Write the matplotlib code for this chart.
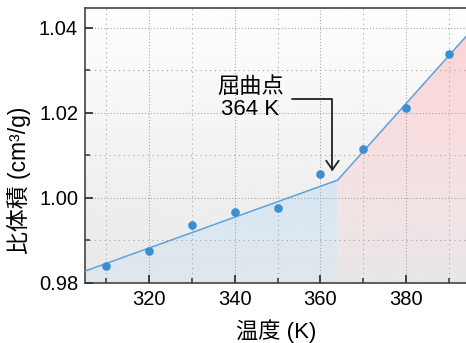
import numpy as np
import matplotlib
matplotlib.use("Agg")
import matplotlib.pyplot as plt
from matplotlib.ticker import MultipleLocator, FixedLocator

plt.rcParams["font.family"] = ["Liberation Sans", "Noto Sans CJK JP"]

# Measured specific volume vs temperature
temperature = [310, 320, 330, 340, 350, 360, 370, 380, 390]
specific_volume = [0.9840, 0.9875, 0.9937, 0.9968, 0.9976, 1.0056, 1.0115, 1.0211, 1.0339]

# Two-segment fit with the knee at 364 K
knee_temperature = 364
fit_temperature = [305, knee_temperature, 394]
fit_volume = [0.9828, 1.0042, 1.0380]

knee_label = "屈曲点\n364 K"
x_ticks = [320, 340, 360, 380]
y_ticks = [0.98, 1.00, 1.02, 1.04]
x_label = "温度 (K)"
y_label = "比体積 (cm³/g)"

xlim = (305, 394)
ylim = (0.98, 1.0447)

fig = plt.figure(figsize=(4.66, 3.43), dpi=100)
ax = fig.add_axes([85 / 466, 60 / 343, 381 / 466, 275 / 343])

# soft vertical background gradient
bg = np.linspace(0.91, 0.995, 256).reshape(-1, 1)
ax.imshow(bg, extent=[xlim[0], xlim[1], ylim[0], ylim[1]], origin="lower",
          aspect="auto", cmap="gray", vmin=0, vmax=1, zorder=0, interpolation="bicubic")


def gradient_fill(x, y, rgb, a_bottom, a_top):
    poly = ax.fill_between(x, y, ylim[0], color="none", lw=0, zorder=1)
    top = max(y)
    rgba = np.zeros((256, 1, 4))
    rgba[:, :, :3] = rgb
    rgba[:, 0, 3] = np.linspace(a_bottom, a_top, 256)
    im = ax.imshow(rgba, extent=[min(x), max(x), ylim[0], top], origin="lower",
                   aspect="auto", zorder=1, interpolation="bicubic")
    im.set_clip_path(poly.get_paths()[0], transform=ax.transData)


gradient_fill(fit_temperature[:2], fit_volume[:2], (0.80, 0.89, 0.96), 0.30, 0.70)
gradient_fill(fit_temperature[1:], fit_volume[1:], (0.99, 0.78, 0.79), 0.05, 0.75)

ax.plot(fit_temperature, fit_volume, color="#5ba4da", lw=1.1, zorder=3)
ax.plot(temperature, specific_volume, "o", color="#3a8fd2", ms=6.2, mec="none", zorder=4)

ax.set_xlim(*xlim)
ax.set_ylim(*ylim)

ax.xaxis.set_major_locator(FixedLocator(x_ticks))
ax.yaxis.set_major_locator(FixedLocator(y_ticks))
ax.xaxis.set_minor_locator(MultipleLocator(10))
ax.yaxis.set_minor_locator(MultipleLocator(0.01))
ax.set_yticklabels([f"{v:.2f}" for v in y_ticks])
ax.set_xticklabels([str(v) for v in x_ticks])

ax.grid(which="major", color="#a0a0a0", lw=0.75, linestyle=(0, (1, 2.0)), zorder=2)
ax.grid(which="minor", color="#a0a0a0", lw=0.75, linestyle=(0, (1, 3.6)), zorder=2)
ax.set_axisbelow(False)
for gl in ax.get_xgridlines() + ax.get_ygridlines():
    gl.set_zorder(2)

ax.tick_params(which="both", direction="in", top=False, right=False,
               color="#333333", labelsize=14.5, pad=5)
ax.tick_params(which="major", length=6, width=1.3)
ax.tick_params(which="minor", length=3.5, width=1.1)

for side in ("left", "bottom", "top"):
    ax.spines[side].set_color("#444444")
    ax.spines[side].set_linewidth(1.2)
ax.spines["right"].set_visible(False)

ax.set_xlabel(x_label, fontsize=16)
ax.set_ylabel(y_label, fontsize=16.5)
ax.xaxis.label.set(va="center", ha="center")
ax.yaxis.label.set(va="center", ha="center")
ax.xaxis.set_label_coords(0.501, -0.1745)
ax.yaxis.set_label_coords(-0.173, 0.375)

ax.annotate(knee_label, xy=(knee_temperature - 1.2, 1.0063), xytext=(343.6, 1.0234),
            ha="center", va="center", fontsize=16, linespacing=1.05, zorder=5,
            arrowprops=dict(arrowstyle="->,head_length=0.4,head_width=0.28",
                            connectionstyle="angle,angleA=0,angleB=90,rad=0",
                            color="#222222", lw=1.3, shrinkA=4, shrinkB=0))

fig.savefig("out.png", dpi=100)
